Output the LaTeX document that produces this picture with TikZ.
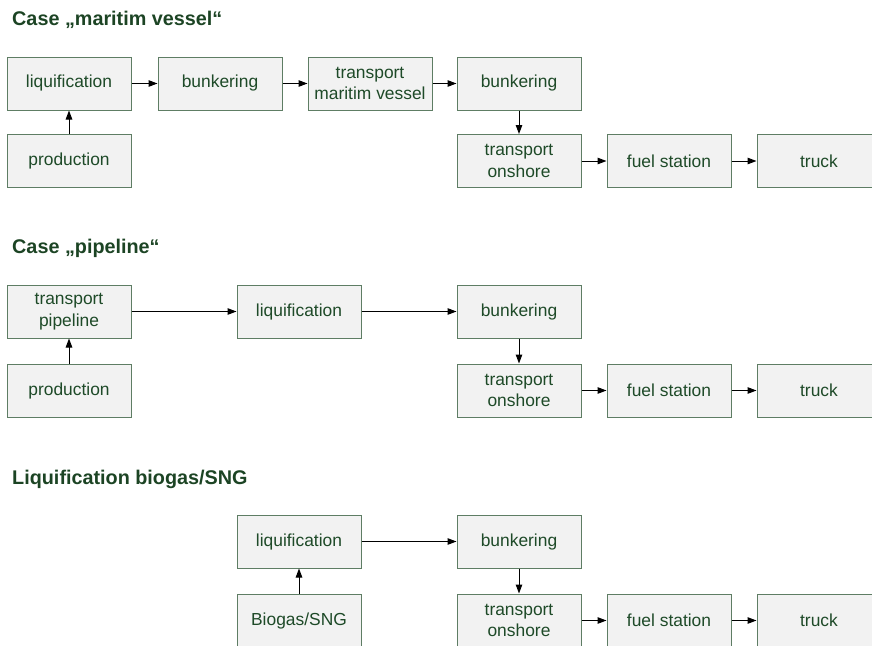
\documentclass[tikz,border=0pt]{standalone}
\usepackage{fontspec}
\setmainfont{Liberation Sans}
\usetikzlibrary{arrows.meta}
\definecolor{txt}{HTML}{1E4A28}
\definecolor{ttl}{HTML}{1C4424}
\definecolor{bord}{HTML}{5E7D64}
\definecolor{boxfill}{HTML}{F2F2F2}
\begin{document}
\begin{tikzpicture}[x=1pt,y=-1pt,
  box/.style={draw=bord, fill=boxfill, line width=1pt, minimum width=124pt, minimum height=53pt, inner sep=0pt, align=center, text=txt, font=\fontsize{17.4}{21.5}\selectfont},
  ttlnode/.style={anchor=west, inner sep=0pt, text=ttl, font=\fontsize{19.8}{22}\selectfont\bfseries},
  arr/.style={-{Triangle[length=9pt,width=6.5pt]}, line width=1pt, draw=black}]
\useasboundingbox (0,0) rectangle (872,645);
\clip (0,0) rectangle (872,645);
% Section 1
\node[ttlnode] (t1) at (12,20) {Case „maritim vessel“};
\node[box] (a1) at (69,83.5) {liquification};
\node[box] (a2) at (220,83.5) {bunkering};
\node[box] (a3) at (370,83.5) {transport\\maritim vessel};
\node[box] (a4) at (519,83.5) {bunkering};
\node[box] (a5) at (69,161) {production};
\node[box] (a6) at (519,161) {transport\\onshore};
\node[box] (a7) at (669,161) {fuel station};
\node[box] (a8) at (819,161) {truck};
\draw[arr] (a1.east) -- (a2.west);
\draw[arr] (a2.east) -- (a3.west);
\draw[arr] (a3.east) -- (a4.west);
\draw[arr] (a5.north) -- (a1.south);
\draw[arr] (a4.south) -- (a6.north);
\draw[arr] (a6.east) -- (a7.west);
\draw[arr] (a7.east) -- (a8.west);
% Section 2
\node[ttlnode] (t2) at (12,248) {Case „pipeline“};
\node[box] (b1) at (69,311.5) {transport\\pipeline};
\node[box] (b2) at (299,311.5) {liquification};
\node[box] (b3) at (519,311.5) {bunkering};
\node[box] (b4) at (69,390.5) {production};
\node[box] (b5) at (519,390.5) {transport\\onshore};
\node[box] (b6) at (669,390.5) {fuel station};
\node[box] (b7) at (819,390.5) {truck};
\draw[arr] (b1.east) -- (b2.west);
\draw[arr] (b2.east) -- (b3.west);
\draw[arr] (b4.north) -- (b1.south);
\draw[arr] (b3.south) -- (b5.north);
\draw[arr] (b5.east) -- (b6.west);
\draw[arr] (b6.east) -- (b7.west);
% Section 3
\node[ttlnode] (t3) at (12,479) {Liquification biogas/SNG};
\node[box] (c1) at (299,541.5) {liquification};
\node[box] (c2) at (519,541.5) {bunkering};
\node[box] (c3) at (299,620.5) {Biogas/SNG};
\node[box] (c4) at (519,620.5) {transport\\onshore};
\node[box] (c5) at (669,620.5) {fuel station};
\node[box] (c6) at (819,620.5) {truck};
\draw[arr] (c1.east) -- (c2.west);
\draw[arr] (c3.north) -- (c1.south);
\draw[arr] (c2.south) -- (c4.north);
\draw[arr] (c4.east) -- (c5.west);
\draw[arr] (c5.east) -- (c6.west);
\end{tikzpicture}
\end{document}
